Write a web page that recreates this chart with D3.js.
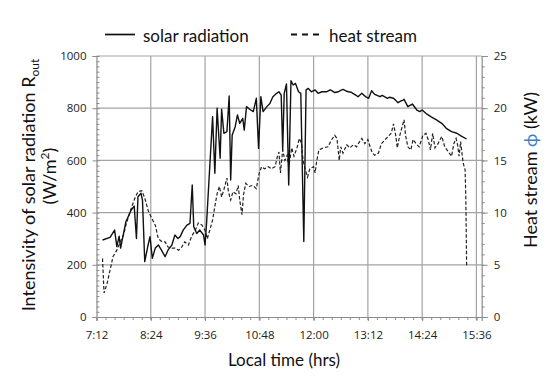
<!DOCTYPE html>
<html>
<head>
<meta charset="utf-8">
<script src="https://cdn.jsdelivr.net/npm/d3@7"></script>
<style>
  body { margin: 0; background: #fff; }
  svg { display: block; font-family: Lato, "Open Sans", sans-serif; }
</style>
</head>
<body>
<svg width="550" height="384"></svg>
<script>
/* DATA : time in minutes after midnight */
var xTickLabels = ["7:12", "8:24", "9:36", "10:48", "12:00", "13:12", "14:24", "15:36"];
var leftTicks = [0, 200, 400, 600, 800, 1000];
var rightTicks = [0, 5, 10, 15, 20, 25];

var solarTime = [440, 450, 456, 459, 462, 464, 471, 474, 478, 482, 485, 487, 491, 493, 496, 500, 503, 506, 510, 514,
  518, 523, 527, 532, 536, 540, 543, 547, 552, 556, 559, 561, 565, 569, 574, 576, 578, 582, 586, 589,
  592, 596, 598, 601, 605, 608, 610, 612, 616, 619, 622, 626, 628, 631, 635, 640, 644, 647, 650, 653,
  658, 662, 666, 671, 674, 677, 679, 681, 684, 687, 690, 693, 696, 700, 703, 707, 710, 713, 717, 722,
  726, 731, 737, 742, 744, 748, 753, 756, 759, 763, 766, 770, 772, 776, 779, 784, 787, 790, 793, 797,
  801, 805, 808, 811, 814, 818, 821, 826, 829, 832, 836, 839, 840, 845, 851, 857, 861, 864, 870, 876,
  883, 890, 896, 903, 910, 916, 923];
var solarValue = [295, 305, 333, 270, 310, 264, 365, 384, 410, 425, 301, 461, 474, 448, 212, 270, 308, 225, 264, 276,
  257, 231, 257, 276, 314, 301, 308, 333, 352, 359, 506, 346, 320, 333, 314, 276, 359, 563, 767, 551,
  800, 608, 796, 704, 710, 847, 525, 697, 729, 774, 742, 761, 716, 806, 796, 787, 838, 646, 844, 787,
  806, 818, 844, 857, 863, 850, 640, 857, 893, 506, 905, 889, 895, 863, 857, 289, 870, 876, 863, 870,
  857, 863, 863, 870, 867, 860, 863, 868, 872, 866, 863, 861, 857, 850, 844, 857, 849, 842, 838, 867,
  853, 848, 844, 849, 844, 838, 842, 838, 830, 821, 828, 831, 834, 806, 816, 793, 787, 793, 778, 767,
  755, 742, 723, 710, 704, 693, 682];

var heatTime = [440, 442, 446, 450, 454, 459, 463, 468, 471, 474, 479, 483, 487, 492, 496, 501, 505, 510, 514, 519,
  523, 527, 532, 536, 541, 545, 549, 554, 558, 563, 567, 572, 576, 579, 583, 586, 589, 592, 595, 598,
  601, 605, 607, 610, 613, 617, 620, 622, 625, 627, 630, 634, 639, 644, 646, 648, 651, 655, 660, 664,
  669, 672, 674, 676, 679, 682, 685, 687, 691, 694, 698, 701, 704, 706, 709, 712, 715, 720, 722, 724,
  727, 733, 739, 744, 748, 751, 754, 756, 759, 764, 768, 773, 777, 781, 784, 788, 792, 795, 798, 801,
  806, 810, 815, 819, 823, 826, 829, 831, 834, 840, 842, 845, 849, 852, 856, 860, 865, 869, 872, 875,
  878, 881, 885, 890, 894, 899, 903, 906, 909, 911, 913, 915, 918, 919, 921, 922, 923];
var heatValue = [5.6, 2.3, 3.2, 4.5, 5.8, 6.4, 7.1, 7.9, 8.8, 9.5, 10.6, 11.4, 12.0, 12.1, 11.4, 10.1, 9.5, 8.8, 7.5, 7.2,
  7.2, 6.7, 6.6, 6.6, 6.4, 6.7, 7.2, 6.9, 7.7, 8.3, 9.0, 8.8, 8.3, 7.5, 8.5, 9.3, 10.6, 11.8, 12.5, 11.5,
  12.2, 13.3, 12.0, 11.2, 12.0, 11.8, 12.6, 11.2, 9.8, 11.7, 12.8, 12.5, 12.6, 12.3, 13.1, 13.8, 14.4, 14.2, 14.4, 14.2,
  14.4, 15.4, 15.8, 13.8, 16.0, 15.0, 15.5, 14.4, 16.2, 15.4, 16.2, 17.1, 16.6, 15.0, 14.1, 13.4, 14.2, 14.4, 13.8, 14.9,
  16.0, 16.2, 16.3, 17.0, 17.4, 17.1, 15.0, 16.3, 15.7, 16.5, 16.2, 16.5, 16.3, 16.8, 17.1, 16.6, 17.0, 16.3, 15.7, 15.5,
  15.7, 16.6, 17.0, 17.3, 17.6, 18.5, 17.4, 16.2, 17.3, 18.9, 17.4, 16.3, 16.0, 17.0, 16.6, 16.3, 17.4, 17.6, 17.0, 16.0,
  17.6, 16.2, 16.6, 17.3, 16.3, 15.8, 15.4, 16.6, 17.1, 16.5, 15.4, 16.8, 15.0, 14.6, 14.1, 11.2, 4.9];

function draw() {
  /* SVG */
  var svg = d3.select("svg");
  var plotLeft = 96.5, plotRight = 481.7, plotTop = 56, plotBottom = 317;

  /* SCALES */
  var x = d3.scaleLinear().domain([432, 943]).range([plotLeft, plotRight]);
  var yL = d3.scaleLinear().domain([0, 1000]).range([plotBottom, plotTop]);
  var yR = d3.scaleLinear().domain([0, 25]).range([plotBottom, plotTop]);
  var xTicks = d3.range(432, 937, 72);

  /* GRID */
  var grid = svg.append("g").attr("stroke", "#a3a3a3").attr("stroke-width", 1.2);
  grid.selectAll("line.h").data(leftTicks.slice(1)).enter().append("line")
    .attr("x1", plotLeft).attr("x2", plotRight)
    .attr("y1", function (d) { return yL(d); }).attr("y2", function (d) { return yL(d); });
  grid.selectAll("line.v").data(xTicks.slice(1)).enter().append("line")
    .attr("y1", plotTop).attr("y2", plotBottom + 3)
    .attr("x1", function (d) { return x(d); }).attr("x2", function (d) { return x(d); });

  /* AXES */
  var axisColor = "#8c8c8c";
  var xAxis = svg.append("g").attr("transform", "translate(0," + plotBottom + ")")
    .call(d3.axisBottom(x).tickValues(xTicks).tickSize(4)
      .tickFormat(function (d, i) { return xTickLabels[i]; }));
  svg.append("g").attr("transform", "translate(0," + plotBottom + ")")
    .call(d3.axisBottom(x).tickValues(d3.range(432, 943, 12)).tickSize(3).tickFormat(""))
    .select(".domain").remove();

  svg.append("g").attr("transform", "translate(" + plotLeft + ",0)")
    .call(d3.axisLeft(yL).tickValues(leftTicks).tickSize(4).tickPadding(6).tickFormat(d3.format("d")));
  svg.append("g").attr("transform", "translate(" + plotLeft + ",0)")
    .call(d3.axisRight(yL).tickValues(d3.range(0, 1001, 20)).tickSize(3).tickFormat(""))
    .select(".domain").remove();

  svg.append("g").attr("transform", "translate(" + plotRight + ",0)")
    .call(d3.axisRight(yR).tickValues(rightTicks).tickSize(6).tickPadding(6).tickFormat(d3.format("d")));
  svg.append("g").attr("transform", "translate(" + plotRight + ",0)")
    .call(d3.axisRight(yR).tickValues(d3.range(0, 26, 1)).tickSize(3).tickFormat(""))
    .select(".domain").remove();

  svg.selectAll(".domain").attr("stroke", axisColor).attr("stroke-width", 1.2);
  svg.selectAll(".tick line").attr("stroke", axisColor);
  svg.selectAll(".tick text").attr("font-size", 11.5).attr("fill", "#222")
    .attr("font-family", "'Open Sans', sans-serif");
  xAxis.selectAll(".tick text").attr("dy", "1.3em");

  /* LINES */
  var solarLine = d3.line()
    .x(function (d, i) { return x(solarTime[i]); })
    .y(function (d) { return yL(d); });
  var heatLine = d3.line()
    .x(function (d, i) { return x(heatTime[i]); })
    .y(function (d) { return yR(d); });

  svg.append("path").datum(heatValue).attr("d", heatLine)
    .attr("fill", "none").attr("stroke", "#222").attr("stroke-width", 1.2)
    .attr("stroke-dasharray", "3.5,2");
  svg.append("path").datum(solarValue).attr("d", solarLine)
    .attr("fill", "none").attr("stroke", "#111").attr("stroke-width", 1.4)
    .attr("stroke-linejoin", "round");

  /* TITLES */
  svg.append("text").attr("x", 284).attr("y", 366).attr("text-anchor", "middle")
    .attr("font-size", 17).attr("fill", "#111").text("Local time (hrs)");

  var lt = svg.append("text").attr("transform", "translate(35,185) rotate(-90)")
    .attr("text-anchor", "middle").attr("font-size", 18).attr("fill", "#111");
  lt.append("tspan").text("Intensivity of solar radiation R");
  lt.append("tspan").attr("font-size", 12).attr("dy", 4).text("out");
  var lt2 = svg.append("text").attr("transform", "translate(56,176) rotate(-90)")
    .attr("text-anchor", "middle").attr("font-size", 18).attr("fill", "#111");
  lt2.append("tspan").text("(W/m");
  lt2.append("tspan").attr("font-size", 12).attr("dy", -7).text("2");
  lt2.append("tspan").attr("dy", 7).text(")");

  var rt = svg.append("text").attr("transform", "translate(537,170) rotate(-90)")
    .attr("text-anchor", "middle").attr("font-size", 18).attr("fill", "#111");
  rt.append("tspan").text("Heat stream ");
  rt.append("tspan").attr("fill", "#3a7dc9").text("ϕ");
  rt.append("tspan").text(" (kW)");

  /* LEGEND */
  var legend = svg.append("g");
  legend.append("line").attr("x1", 105).attr("x2", 135).attr("y1", 34.5).attr("y2", 34.5)
    .attr("stroke", "#111").attr("stroke-width", 1.7);
  legend.append("text").attr("x", 143).attr("y", 42).attr("font-size", 17).attr("fill", "#111")
    .text("solar radiation");
  legend.append("line").attr("x1", 291).attr("x2", 321).attr("y1", 34.5).attr("y2", 34.5)
    .attr("stroke", "#111").attr("stroke-width", 1.8).attr("stroke-dasharray", "6,5");
  legend.append("text").attr("x", 329).attr("y", 42).attr("font-size", 17).attr("fill", "#111")
    .text("heat stream");
}

draw();
</script>
</body>
</html>
